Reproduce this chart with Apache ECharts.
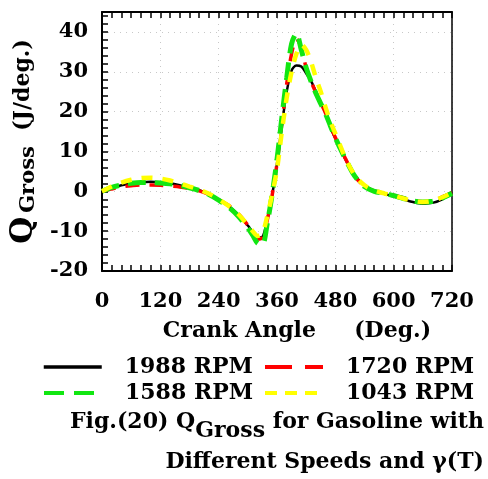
<!DOCTYPE html>
<html><head><meta charset="utf-8">
<script src="https://cdn.jsdelivr.net/npm/echarts@6/dist/echarts.min.js"></script>
<style>html,body{margin:0;padding:0;background:#fff}#c{width:488px;height:479px}</style>
</head><body><div id="c"></div>
<script>
const angles = [0,20,40,60,80,100,120,140,160,180,200,220,240,260,280,300,310,320,330,340,350,360,370,380,390,400,410,420,430,440,450,460,470,480,490,500,520,540,560,580,600,620,640,660,680,700,720];
const q1988 = [0,0.8,1.5,2.0,2.3,2.4,2.3,2.0,1.5,0.9,0.3,-0.7,-2.1,-3.7,-5.8,-8.6,-10.2,-11.6,-11.4,-7.0,-1.0,7.0,16.5,25.0,30.3,31.6,31.3,29.6,27.7,25.0,22.3,20.0,16.0,13.3,11.0,8.2,4.0,1.5,0.1,-0.6,-1.3,-2.0,-2.7,-3.1,-2.9,-2.0,-0.5];
const q1720 = [0,0.6,1.1,1.4,1.6,1.6,1.5,1.3,1.1,0.7,0.1,-0.8,-2.1,-3.5,-5.6,-8.5,-10.3,-12.0,-11.6,-7.2,-1.0,7.0,17.0,27.0,34.5,38.2,36.0,31.0,27.6,24.8,22.2,19.6,16.5,13.5,11.0,8.4,3.8,1.3,0.1,-0.5,-1.0,-1.6,-2.3,-2.6,-2.4,-1.4,-0.3];
const q1588 = [0,1.0,1.6,2.0,2.2,2.2,2.1,1.9,1.5,0.9,0.2,-0.8,-2.2,-3.9,-6.2,-9.2,-11.0,-13.0,-13.3,-8.0,-0.8,8.0,18.5,28.5,37.0,39.6,35.5,31.0,27.6,24.6,22.0,19.4,16.4,13.4,10.8,8.3,3.8,1.2,0,-0.5,-1.1,-1.8,-2.4,-2.7,-2.5,-1.7,-0.5];
const q1043 = [0,1.2,2.2,2.9,3.3,3.4,3.2,2.7,2.0,1.2,0.4,-0.6,-2.0,-3.6,-5.7,-8.5,-10.0,-11.2,-10.5,-6.2,-0.8,5.5,15.0,23.5,30.0,34.5,36.8,35.5,32.5,28.5,25.0,21.0,17.5,14.5,11.5,8.5,4.0,1.5,0.2,-0.5,-1.1,-1.8,-2.4,-2.7,-2.4,-1.5,-0.4];
const seriesNames = ['1988 RPM','1720 RPM','1588 RPM','1043 RPM'];
const xTicks = [0,120,240,360,480,600,720];
const yTicks = [-20,-10,0,10,20,30,40];

const FONT = 'DejaVu Serif';
const chart = echarts.init(document.getElementById('c'), null, {renderer:'canvas'});
function pairs(v){ return angles.map((a,i)=>[a, v[i]]); }
const axisCommon = {
  axisLine:{show:true, onZero:false, lineStyle:{color:'#000', width:2}},
  axisTick:{show:true, inside:true, length:6, lineStyle:{color:'#000', width:1.5}},
};
const legendCommon = {
  show:true, padding:0, itemWidth:58, itemHeight:14, itemGap:0,
  itemStyle:{opacity:0},
  textStyle:{fontFamily:FONT, fontWeight:'bold', fontSize:22, color:'#000', padding:[0,0,0,18], lineHeight:24}
};
const legendPos = [[42,355],[263,355],[42,381],[263,381]];
const legendDash = [{width:3.5, type:'solid'},{width:4, type:[27,13]},{width:4, type:[20,10]},{width:4, type:[12,8]}];
const option = {
  backgroundColor:'#fff',
  animation:false,
  grid:{left:102, right:36, top:12, bottom:208, containLabel:false, outerBoundsMode:'none'},
  xAxis:[{
    type:'value', min:0, max:720, interval:120,
    ...axisCommon,
    minorTick:{show:true, splitNumber:6, length:6, lineStyle:{color:'#000', width:1.5}},
    axisLabel:{margin:20, fontFamily:FONT, fontWeight:'bold', fontSize:21, color:'#000',
      formatter:v=>xTicks.includes(v)?String(v):''},
    splitLine:{show:true, lineStyle:{color:'#c8c8c8', type:[1,5], width:1}},
    name:'Crank Angle     (Deg.)', nameLocation:'middle', nameGap:49,
    nameTextStyle:{fontFamily:FONT, fontWeight:'bold', fontSize:22, color:'#000', padding:[0,0,0,40]}
  },{
    type:'value', position:'top', min:0, max:720, interval:120,
    ...axisCommon,
    minorTick:{show:true, splitNumber:6, length:6, lineStyle:{color:'#000', width:1.5}},
    axisLabel:{show:false}, splitLine:{show:false}
  }],
  yAxis:[{
    type:'value', min:-20, max:45, interval:10,
    ...axisCommon,
    minorTick:{show:true, splitNumber:5, length:6, lineStyle:{color:'#000', width:1.5}},
    axisLabel:{margin:14, fontFamily:FONT, fontWeight:'bold', fontSize:21, color:'#000',
      formatter:v=>yTicks.includes(v)?String(v):''},
    splitLine:{show:true, lineStyle:{color:'#c8c8c8', type:[1,5], width:1}},
    name:'{q|Q}{s|Gross}{u|  (J/deg.)}', nameLocation:'middle', nameRotate:90, nameGap:63,
    nameTextStyle:{color:'#000', rich:{
      q:{fontFamily:FONT, fontWeight:'bold', fontSize:31, color:'#000', padding:[0,4,0,0]},
      s:{fontFamily:FONT, fontWeight:'bold', fontSize:21, color:'#000', verticalAlign:'bottom', padding:[10,0,0,0]},
      u:{fontFamily:FONT, fontWeight:'bold', fontSize:22, color:'#000'}
    }}
  },{
    type:'value', position:'right', min:-20, max:45, interval:10,
    axisLine:{show:true, onZero:false, lineStyle:{color:'#000', width:1.5}},
    axisTick:{show:false}, minorTick:{show:false},
    axisLabel:{show:false}, splitLine:{show:false}
  }],
  legend: seriesNames.map((n,i)=>({...legendCommon, left:legendPos[i][0], top:legendPos[i][1],
    data:[{name:n, lineStyle:legendDash[i]}]})),
  graphic:[{
    type:'text', right:4, top:406,
    style:{
      text:'{a|Fig.(20) Q}{s|Gross}{a| for Gasoline with}',
      rich:{
        a:{fontFamily:FONT, fontWeight:'bold', fontSize:22, fill:'#000', lineHeight:40},
        s:{fontFamily:FONT, fontWeight:'bold', fontSize:22, fill:'#000', verticalAlign:'bottom', padding:[14,0,0,0], lineHeight:40}
      }
    }
  },{
    type:'text', right:4, top:451,
    style:{
      text:'Different Speeds and γ(T)',
      fontFamily:FONT, fontWeight:'bold', fontSize:22, fill:'#000'
    }
  }],
  series:[
    {name:seriesNames[0], type:'line', data:pairs(q1988), smooth:0.3, showSymbol:false, symbol:'none',
      lineStyle:{color:'#000', width:2.5}, itemStyle:{color:'#000'}},
    {name:seriesNames[1], type:'line', data:pairs(q1720), smooth:0.3, showSymbol:false, symbol:'none',
      lineStyle:{color:'#ff0000', width:3.5, type:[14,10]}, itemStyle:{color:'#ff0000'}},
    {name:seriesNames[2], type:'line', data:pairs(q1588), smooth:0.3, showSymbol:false, symbol:'none',
      lineStyle:{color:'#11e611', width:5, type:[18,9]}, itemStyle:{color:'#11e611'}},
    {name:seriesNames[3], type:'line', data:pairs(q1043), smooth:0.3, showSymbol:false, symbol:'none',
      lineStyle:{color:'#ffff00', width:4.5, type:[11,10]}, itemStyle:{color:'#ffff00'}}
  ]
};
chart.setOption(option);
</script></body></html>
